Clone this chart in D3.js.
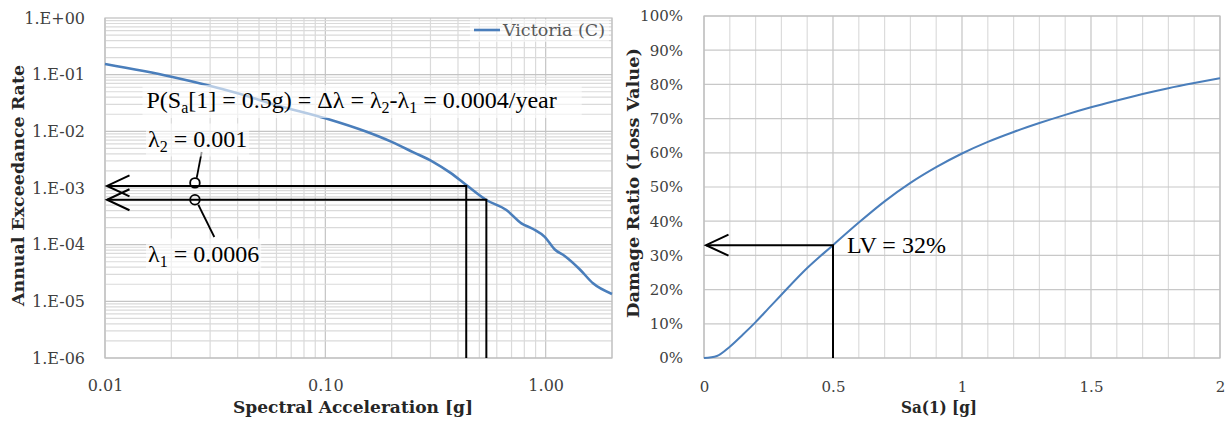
<!DOCTYPE html>
<html>
<head>
<meta charset="UTF-8">
<style>
  body { margin: 0; background: #fff; }
  svg text { font-family: "DejaVu Serif", serif; }
  .note { font-family: "Liberation Serif", "Times New Roman", serif; font-size: 24px; fill: #000; }
  .tick text { fill: #404040; }
</style>
<script src="https://cdn.jsdelivr.net/npm/d3@7"></script>
</head>
<body>
<svg id="chart" width="1225" height="421"></svg>
<script>
// left chart: hazard curve, Victoria (C)
var hazardSa   = [0.01, 0.02, 0.04, 0.06, 0.1, 0.154, 0.2, 0.25, 0.308, 0.37, 0.436, 0.538, 0.663, 0.776, 0.876, 0.99, 1.10, 1.22, 1.43, 1.64, 2.0];
var hazardRate = [0.154, 0.092, 0.047, 0.029, 0.017, 0.0098, 0.0065, 0.0043, 0.0029, 0.00185, 0.00113, 0.000614, 0.000409, 0.000238, 0.000189, 0.000137, 0.0000822, 0.0000631, 0.0000365, 0.0000208, 0.0000135];
var hazardYTicks = [1, 0.1, 0.01, 0.001, 0.0001, 0.00001, 0.000001];
var hazardYLabels = ["1.E+00", "1.E-01", "1.E-02", "1.E-03", "1.E-04", "1.E-05", "1.E-06"];
var hazardXTicks = [0.01, 0.1, 1];
var hazardXLabels = ["0.01", "0.10", "1.00"];
// the two exceedance rates
var lambdaRates = [0.00109, 0.00062];
var lambdaSa = [0.436, 0.538];
var markerSa = 0.0256;

// right chart: loss (damage ratio) curve
var lossSa    = [0, 0.05, 0.1, 0.15, 0.2, 0.25, 0.3, 0.4, 0.5, 0.6, 0.7, 0.8, 0.9, 1.0, 1.1, 1.2, 1.3, 1.4, 1.5, 1.6, 1.7, 1.8, 1.9, 2.0];
var lossRatio = [0, 0.006, 0.033, 0.068, 0.105, 0.145, 0.185, 0.263, 0.33, 0.396, 0.458, 0.512, 0.558, 0.598, 0.632, 0.661, 0.687, 0.711, 0.733, 0.753, 0.772, 0.789, 0.804, 0.818];
var lossYTicks = [0, 0.1, 0.2, 0.3, 0.4, 0.5, 0.6, 0.7, 0.8, 0.9, 1];
var lossYLabels = ["0%", "10%", "20%", "30%", "40%", "50%", "60%", "70%", "80%", "90%", "100%"];
var lossXTicks = [0, 0.5, 1, 1.5, 2];
var lossXLabels = ["0", "0.5", "1", "1.5", "2"];
var lvSa = 0.5, lvRatio = 0.33;

var svg = d3.select("#chart");
var blue = "#4a7ebb";

// rich text helper: parts = [[text, isSub], ...]
function richText(g, x, y, parts) {
    var t = g.append("text").attr("class", "note").attr("x", x).attr("y", y);
    var shifted = false;
    parts.forEach(function(p) {
        var ts = t.append("tspan").text(p[0]);
        if (p[1]) { ts.attr("dy", shifted ? 0 : 5).style("font-size", "16px"); shifted = true; }
        else { ts.attr("dy", shifted ? -5 : 0); shifted = false; }
    });
    return t;
}
function backBox(g, t, padL, padR, op) {
    var b = t.node().getBBox();
    g.insert("rect", function() { return t.node(); })
        .attr("x", b.x - padL).attr("y", b.y - 2)
        .attr("width", b.width + padL + padR).attr("height", b.height + 4)
        .attr("fill", "#fff").attr("opacity", op);
}
function arrowHead(g, x, y) {
    g.append("path")
        .attr("d", "M" + (x + 22.5) + "," + (y - 10.5) + "L" + x + "," + y + "L" + (x + 22.5) + "," + (y + 10.5))
        .attr("fill", "none").attr("stroke", "#000").attr("stroke-width", 2);
}

// ---------- left chart ----------
var L = {left: 105, right: 612, top: 18, bottom: 358};
var x1 = d3.scaleLog().domain([0.01, 2]).range([L.left, L.right]);
var y1 = d3.scaleLog().domain([0.000001, 1]).range([L.bottom, L.top]);

var g1 = svg.append("g");
var gridX = [], gridY = [];
for (var e = -2; e <= 0; e++) for (var m = 1; m <= 9; m++) { var v = m * Math.pow(10, e); if (v <= 2) gridX.push(v); }
for (var e = -6; e < 0; e++) for (var m = 1; m <= 9; m++) gridY.push(m * Math.pow(10, e));

g1.selectAll(".gx").data(gridX).enter().append("line")
    .attr("x1", function(d) { return x1(d); }).attr("x2", function(d) { return x1(d); })
    .attr("y1", L.top).attr("y2", L.bottom)
    .attr("stroke", function(d, i) { return i % 9 == 0 ? "#c4c4c4" : "#dadada"; }).attr("stroke-width", 1.2);
g1.selectAll(".gy").data(gridY).enter().append("line")
    .attr("x1", L.left).attr("x2", L.right)
    .attr("y1", function(d) { return y1(d); }).attr("y2", function(d) { return y1(d); })
    .attr("stroke", function(d, i) { return i % 9 == 0 ? "#c4c4c4" : "#dadada"; }).attr("stroke-width", 1.2);
g1.append("rect").attr("x", L.left).attr("y", L.top).attr("width", L.right - L.left).attr("height", L.bottom - L.top)
    .attr("fill", "none").attr("stroke", "#bfbfbf").attr("stroke-width", 1.2);

var hazardPts = hazardSa.map(function(d, i) { return [d, hazardRate[i]]; });
g1.append("path").datum(hazardPts)
    .attr("d", d3.line().curve(d3.curveMonotoneX).x(function(d) { return x1(d[0]); }).y(function(d) { return y1(d[1]); }))
    .attr("fill", "none").attr("stroke", blue).attr("stroke-width", 2.6);

var ax1y = g1.append("g").attr("transform", "translate(" + L.left + ",0)")
    .call(d3.axisLeft(y1).tickValues(hazardYTicks).tickSize(0).tickPadding(20)
        .tickFormat(function(d, i) { return hazardYLabels[i]; }));
var ax1x = g1.append("g").attr("transform", "translate(0," + L.bottom + ")")
    .call(d3.axisBottom(x1).tickValues(hazardXTicks).tickSize(0).tickPadding(22)
        .tickFormat(function(d, i) { return hazardXLabels[i]; }));
[ax1y, ax1x].forEach(function(a) { a.select(".domain").remove(); a.selectAll("text").style("font-size", "16px").style("font-family", "DejaVu Serif"); });

g1.append("text").attr("x", 353).attr("y", 413).attr("text-anchor", "middle")
    .attr("textLength", 240).attr("lengthAdjust", "spacingAndGlyphs")
    .style("font-weight", "bold").style("font-size", "16px").attr("fill", "#262626")
    .text("Spectral Acceleration [g]");
g1.append("text").attr("transform", "translate(24,185.5) rotate(-90)").attr("text-anchor", "middle")
    .attr("textLength", 241).attr("lengthAdjust", "spacingAndGlyphs")
    .style("font-weight", "bold").style("font-size", "16px").attr("fill", "#262626")
    .text("Annual Exceedance Rate");

// legend
var leg = g1.append("g");
var legText = leg.append("text").attr("x", 503).attr("y", 36).attr("textLength", 102).attr("lengthAdjust", "spacingAndGlyphs")
    .style("font-size", "16px").attr("fill", "#595959").text("Victoria (C)");
backBox(leg, legText, 32, 4, 0.5);
leg.append("line").attr("x1", 474).attr("x2", 500).attr("y1", 30).attr("y2", 30).attr("stroke", blue).attr("stroke-width", 2.6);

// lambda guides
var ann = g1.append("g");
lambdaRates.forEach(function(r, i) {
    var yy = y1(r), xx = x1(lambdaSa[i]), x0 = x1(0.01) + 2;
    ann.append("path").attr("d", "M" + x0 + "," + yy + "H" + xx + "V" + L.bottom)
        .attr("fill", "none").attr("stroke", "#000").attr("stroke-width", 2);
    arrowHead(ann, x0, yy);
});
ann.append("circle").attr("cx", x1(markerSa)).attr("cy", y1(lambdaRates[0]) - 3).attr("r", 4.8)
    .attr("fill", "none").attr("stroke", "#000").attr("stroke-width", 1.8);
ann.append("circle").attr("cx", x1(markerSa)).attr("cy", y1(lambdaRates[1])).attr("r", 4.8)
    .attr("fill", "none").attr("stroke", "#000").attr("stroke-width", 1.8);
ann.append("line").attr("x1", 196.7).attr("y1", y1(lambdaRates[0]) - 8).attr("x2", 201.7).attr("y2", 152)
    .attr("stroke", "#000").attr("stroke-width", 1.8);
ann.append("line").attr("x1", 198.3).attr("y1", y1(lambdaRates[1]) + 5).attr("x2", 214.3).attr("y2", 237)
    .attr("stroke", "#000").attr("stroke-width", 1.8);

var tBig = richText(ann, 146.5, 108, [["P(S", 0], ["a", 1], ["[1] = 0.5g) = \u0394\u03bb = \u03bb", 0], ["2", 1], ["-\u03bb", 0], ["1", 1], [" = 0.0004/year", 0]]);
backBox(ann, tBig, 4, 25, 0.6);
var tL2 = richText(ann, 148, 146.5, [["\u03bb", 0], ["2", 1], [" = 0.001", 0]]);
backBox(ann, tL2, 2, 2, 0.6);
var tL1 = richText(ann, 148, 261.5, [["\u03bb", 0], ["1", 1], [" = 0.0006", 0]]);
backBox(ann, tL1, 2, 2, 0.6);

// ---------- right chart ----------
var R = {left: 704, right: 1220, top: 16, bottom: 358};
var x2 = d3.scaleLinear().domain([0, 2]).range([R.left, R.right]);
var y2 = d3.scaleLinear().domain([0, 1]).range([R.bottom, R.top]);
var g2 = svg.append("g");

g2.selectAll(".gx").data(d3.range(0, 21)).enter().append("line")
    .attr("x1", function(d) { return x2(d / 10); }).attr("x2", function(d) { return x2(d / 10); })
    .attr("y1", R.top).attr("y2", R.bottom)
    .attr("stroke", function(d) { return d % 5 == 0 ? "#c4c4c4" : "#dcdcdc"; }).attr("stroke-width", 1.2);
g2.selectAll(".gy").data(lossYTicks).enter().append("line")
    .attr("x1", R.left).attr("x2", R.right)
    .attr("y1", function(d) { return y2(d); }).attr("y2", function(d) { return y2(d); })
    .attr("stroke", "#c8c8c8").attr("stroke-width", 1.2);
g2.append("rect").attr("x", R.left).attr("y", R.top).attr("width", R.right - R.left).attr("height", R.bottom - R.top)
    .attr("fill", "none").attr("stroke", "#bfbfbf").attr("stroke-width", 1.2);

var lossPts = lossSa.map(function(d, i) { return [d, lossRatio[i]]; });
g2.append("path").datum(lossPts)
    .attr("d", d3.line().curve(d3.curveMonotoneX).x(function(d) { return x2(d[0]); }).y(function(d) { return y2(d[1]); }))
    .attr("fill", "none").attr("stroke", blue).attr("stroke-width", 2);

var ax2y = g2.append("g").attr("transform", "translate(" + R.left + ",0)")
    .call(d3.axisLeft(y2).tickValues(lossYTicks).tickSize(0).tickPadding(21)
        .tickFormat(function(d, i) { return lossYLabels[i]; }));
var ax2x = g2.append("g").attr("transform", "translate(0," + R.bottom + ")")
    .call(d3.axisBottom(x2).tickValues(lossXTicks).tickSize(0).tickPadding(23)
        .tickFormat(function(d, i) { return lossXLabels[i]; }));
[ax2y, ax2x].forEach(function(a) { a.select(".domain").remove(); a.selectAll("text").style("font-size", "15px").style("font-family", "DejaVu Serif"); });

g2.append("text").attr("x", 939).attr("y", 413).attr("text-anchor", "middle")
    .attr("textLength", 76).attr("lengthAdjust", "spacingAndGlyphs")
    .style("font-weight", "bold").style("font-size", "16px").attr("fill", "#262626")
    .text("Sa(1)  [g]");
g2.append("text").attr("transform", "translate(639,183) rotate(-90)").attr("text-anchor", "middle")
    .attr("textLength", 270).attr("lengthAdjust", "spacingAndGlyphs")
    .style("font-weight", "bold").style("font-size", "16px").attr("fill", "#262626")
    .text("Damage Ratio (Loss Value)");

var yy = y2(lvRatio), xx = x2(lvSa), x0 = x2(0) + 2;
g2.append("path").attr("d", "M" + x0 + "," + yy + "H" + xx + "V" + R.bottom)
    .attr("fill", "none").attr("stroke", "#000").attr("stroke-width", 2);
arrowHead(g2, x0, yy);
g2.append("text").attr("class", "note").attr("x", 847).attr("y", 253).text("LV = 32%");
</script>
</body>
</html>
